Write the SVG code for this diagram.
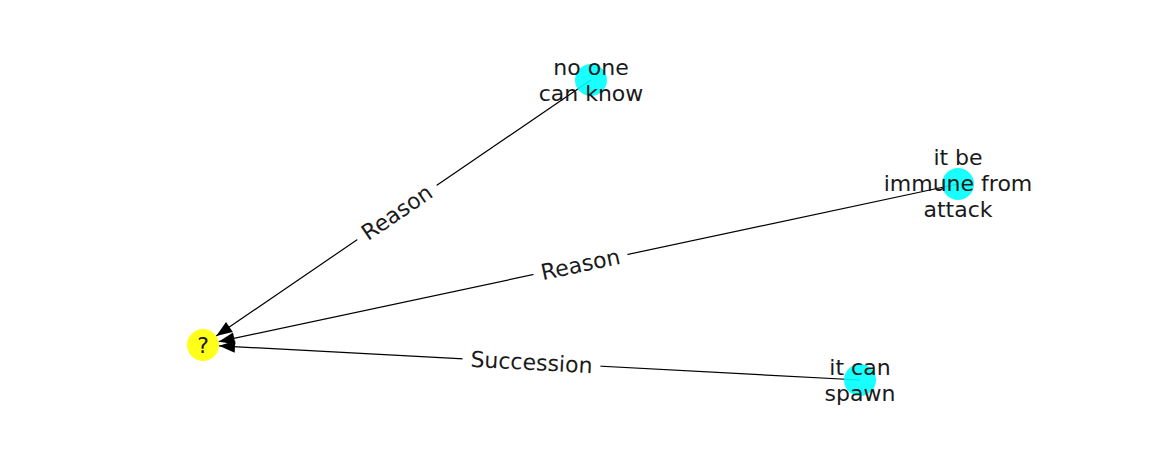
<svg xmlns="http://www.w3.org/2000/svg" width="1162" height="462" viewBox="0 0 1162 462">
<style>
.edge{stroke:#000;stroke-width:1.2;fill:none}
.lbl{font-family:"DejaVu Sans",sans-serif;font-size:22px;fill:#1a1a1a;text-anchor:middle;dominant-baseline:central}
.bg{fill:#fff}
.cyan{fill:#00ffff;opacity:0.9}
.yellow{fill:#ffff00;opacity:0.9}
</style>
<defs>
<marker id="arr" markerUnits="userSpaceOnUse" markerWidth="20" markerHeight="16" viewBox="-17 -8 19 16" refX="0" refY="0" orient="auto">
<path d="M0,0 L-16,-6 L-16,6 Z" fill="#000"/>
</marker>
</defs>
<rect width="1162" height="462" fill="#fff"/>
<g id="edges">
<line class="edge" x1="591" y1="80" x2="216.2" y2="336.0" marker-end="url(#arr)"/>
<line class="edge" x1="958" y1="184" x2="218.6" y2="341.7" marker-end="url(#arr)"/>
<line class="edge" x1="860" y1="380" x2="219.0" y2="345.85" marker-end="url(#arr)"/>
<g transform="translate(397,212.5) rotate(-34.33)">
<rect class="bg" x="-48" y="-15" width="96" height="30"/>
<text class="lbl" x="0" y="0">Reason</text>
</g>
<g transform="translate(580.5,264.5) rotate(-12.04)">
<rect class="bg" x="-48" y="-15" width="96" height="30"/>
<text class="lbl" x="0" y="0">Reason</text>
</g>
<g transform="translate(531.5,362.5) rotate(3.05)">
<rect class="bg" x="-69" y="-15" width="138" height="30"/>
<text class="lbl" x="0" y="0">Succession</text>
</g>
</g>
<g id="node-q">
<circle class="yellow" cx="203" cy="345" r="16"/>
<text class="lbl" x="203" y="345">?</text>
</g>
<g id="node-noone">
<circle class="cyan" cx="591" cy="80" r="16"/>
<text class="lbl" x="591" y="67">no one</text>
<text class="lbl" x="591" y="93">can know</text>
</g>
<g id="node-immune">
<circle class="cyan" cx="958" cy="184" r="16"/>
<text class="lbl" x="958" y="157">it be</text>
<text class="lbl" x="958" y="183">immune from</text>
<text class="lbl" x="958" y="209">attack</text>
</g>
<g id="node-spawn">
<circle class="cyan" cx="860" cy="380" r="16"/>
<text class="lbl" x="860" y="367">it can</text>
<text class="lbl" x="860" y="393">spawn</text>
</g>
</svg>
